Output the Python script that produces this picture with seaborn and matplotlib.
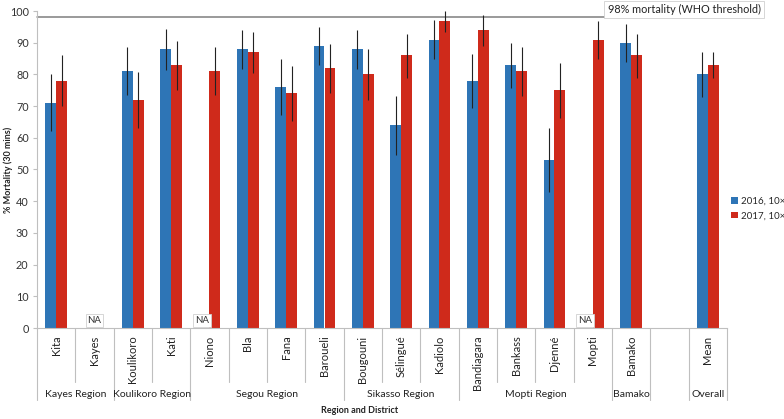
import numpy as np
import pandas as pd
import matplotlib.pyplot as plt
import seaborn as sns

nan = np.nan

# districts in plotting order (one blank slot before the overall mean)
districts = ['Kita', 'Kayes', 'Koulikoro', 'Kati', 'Niono', 'Bla', 'Fana', 'Baroueli',
             'Bougouni', 'Sélingué', 'Kadiolo', 'Bandiagara', 'Bankass', 'Djenné',
             'Mopti', 'Bamako', ' ', 'Mean']

mort_2016 = [71, nan, 81, 88, nan, 88, 76, 89, 88, 64, 91, 78, 83, 53, nan, 90, nan, 80]
low_2016 = [62, nan, 73.5, 81.5, nan, 81.7, 67.2, 83, 81.7, 54.5, 84.8, 69.5, 75.8, 43, nan, 84, nan, 73]
high_2016 = [80, nan, 88.7, 94.3, nan, 94, 84.8, 94.9, 93.9, 73.3, 97.2, 86.3, 90, 63, nan, 95.8, nan, 87]

mort_2017 = [78, nan, 72, 83, 81, 87, 74, 82, 80, 86, 97, 94, 81, 75, 91, 86, nan, 83]
low_2017 = [70, nan, 63.2, 75, 73.5, 80.3, 65.4, 74.2, 72, 79, 93.5, 89, 73.2, 66.3, 84.9, 79, nan, 79]
high_2017 = [86, nan, 80.8, 90.6, 88.7, 93.5, 82.6, 89.5, 87.9, 92.8, 100, 98.6, 88.6, 83.5, 96.8, 92.8, nan, 87.2]

regions = ['Kayes Region', 'Koulikoro Region', 'Segou Region', 'Sikasso Region',
           'Mopti Region', 'Bamako', '', 'Overall']
region_sizes = [2, 2, 4, 3, 4, 1, 1, 1]

years = ['2016, 10×', '2017, 10×']
threshold = 98

colors = ['#2E75B6', '#CF2A1B']

# long table for seaborn
df = pd.DataFrame({
    'District': districts * 2,
    'Year': [years[0]] * len(districts) + [years[1]] * len(districts),
    'Mortality': mort_2016 + mort_2017,
    'Low': low_2016 + low_2017,
    'High': high_2016 + high_2017,
})

sns.set_style('white')
plt.rcParams['font.family'] = ['Lato', 'DejaVu Sans']

fig = plt.figure(figsize=(7.84, 4.19), dpi=100)
ax = fig.add_axes([37 / 784, 1 - 328 / 419, 690 / 784, 317 / 419])

sns.barplot(data=df, x='District', y='Mortality', hue='Year', order=districts,
            hue_order=years, palette=colors, errorbar=None, width=0.56, gap=0,
            saturation=1, linewidth=0, ax=ax)

# error bars from the table, placed on the bars seaborn drew
for container, year in zip(ax.containers, years):
    sub = df[df['Year'] == year].set_index('District')
    for bar in container:
        cx = bar.get_x() + bar.get_width() / 2
        idx = int(round(cx))
        row = sub.loc[districts[idx]]
        if np.isnan(row['Mortality']):
            continue
        ax.vlines(cx, row['Low'], row['High'], color='#222222', linewidth=0.8, zorder=3)

# NA markers where data is missing
for i, d in enumerate(districts):
    if d.strip() == '':
        continue
    a, b = mort_2016[i], mort_2017[i]
    if np.isnan(a) and np.isnan(b):
        xpos = i
    elif np.isnan(a):
        xpos = i - 0.2
    elif np.isnan(b):
        xpos = i + 0.2
    else:
        continue
    ax.text(xpos, 2.3, 'NA', ha='center', va='center', fontsize=7, color='#333333',
            bbox=dict(boxstyle='square,pad=0.2', fc='white', ec='#D0D0D0', lw=0.6))

# WHO threshold
ax.axhline(threshold, xmin=0, xmax=716 / 690, color='#7F7F7F', linewidth=1.1, clip_on=False)
ax.text(684 / 784, 1 - 9.5 / 419, '98% mortality (WHO threshold)', transform=fig.transFigure,
        ha='center', va='center', fontsize=7.8, color='#222222',
        bbox=dict(boxstyle='square,pad=0.3', fc='white', ec='#D0D0D0', lw=0.6))

ax.set_xlim(-0.5, len(districts) - 0.5)
ax.set_ylim(0, 100)
ax.set_yticks(range(0, 101, 10))
ax.tick_params(axis='y', labelsize=7.8, length=3, color='#BFBFBF', left=True, pad=3,
               labelcolor='#333333')
ax.tick_params(axis='x', bottom=False, labelbottom=False)
for side in ['top', 'right']:
    ax.spines[side].set_visible(False)
for side in ['left', 'bottom']:
    ax.spines[side].set_color('#BFBFBF')
    ax.spines[side].set_linewidth(0.8)

ax.set_xlabel('')
ax.set_ylabel('')
fig.text(8 / 784, 1 - 170 / 419, '% Mortality (30 mins)', rotation=90, ha='center',
         va='center', fontsize=6.5, fontweight='bold', color='#222222')

# two-level category axis
trans = ax.get_xaxis_transform()
for i, d in enumerate(districts):
    ax.text(i, -0.024, d.strip(), transform=trans, rotation=90, ha='center', va='top',
            fontsize=8, color='#222222')

bounds = np.cumsum([0] + region_sizes) - 0.5
for i in range(len(districts) + 1):
    xb = i - 0.5
    depth = -0.227 if xb in bounds else -0.170
    ax.plot([xb, xb], [0, depth], transform=trans, color='#BFBFBF', lw=0.8, clip_on=False)

for name, start, size in zip(regions, bounds[:-1], region_sizes):
    ax.text(start + size / 2, -0.211, name, transform=trans, ha='center', va='center',
            fontsize=7.5, color='#222222')

fig.text(360 / 784, 1 - 410 / 419, 'Region and District', ha='center', va='center',
         fontsize=6.5, fontweight='bold', color='#222222')

ax.legend(loc='upper left', bbox_to_anchor=(731 / 784, 1 - 197 / 419),
          bbox_transform=fig.transFigure, frameon=False, fontsize=7,
          handlelength=0.7, handleheight=0.7, handletextpad=0.3, labelspacing=0.55,
          borderaxespad=0, borderpad=0)

fig.savefig('out.png', dpi=100)
